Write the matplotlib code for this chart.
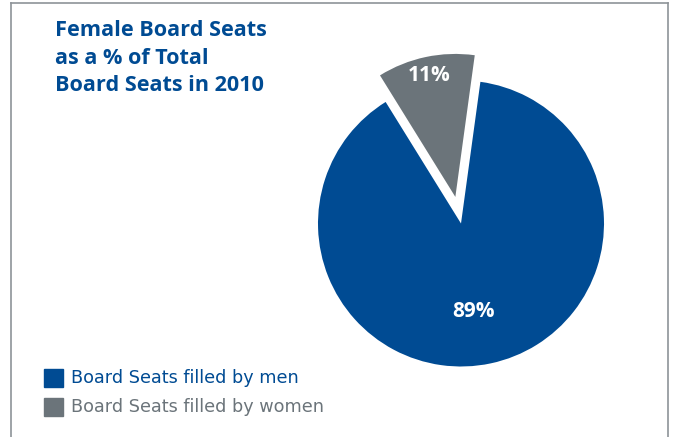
import numpy as np
import matplotlib.pyplot as plt
from matplotlib.lines import Line2D

# data
labels = ['Board Seats filled by men', 'Board Seats filled by women']
values = [89, 11]
pct_labels = ['89%', '11%']
colors = ['#004B93', '#6B747A']
explode = [0, 0.19]

W, H = 675, 437
fig = plt.figure(figsize=(W / 100, H / 100), dpi=100)

# ramecek kolem grafu (spodni hrana je mimo obrazek)
fx = lambda px: px / W
fy = lambda py: 1 - py / H
frame_col = '#8E9398'
fig.add_artist(Line2D([fx(11), fx(11)], [fy(3), -0.1], color=frame_col, lw=1.2))
fig.add_artist(Line2D([fx(11), fx(668)], [fy(3), fy(3)], color=frame_col, lw=1.2))
fig.add_artist(Line2D([fx(668), fx(668)], [fy(3), -0.1], color=frame_col, lw=1.2))

# osa pro kolac - polomer 143 px, stred (461, 223.5)
r_px, cx, cy = 143, 461, 223.5
lim = 1.3
side = 2 * r_px * lim
ax = fig.add_axes([(cx - side / 2) / W, (H - cy - side / 2) / H, side / W, side / H])

start = 102 + values[1] / 100 * 360 / 2  # zeny na stredu ~102 st.
wedges, _ = ax.pie(values, colors=colors, explode=explode, startangle=start,
                   counterclock=True, radius=1,
                   wedgeprops=dict(linewidth=0))
ax.set_xlim(-lim, lim)
ax.set_ylim(-lim, lim)
ax.set_aspect('equal')
ax.axis('off')

# popisky procent
dists = [0.62, 0.87]
shift = [-4, 0]  # maly posun uhlu popisku
for w, t, d, s in zip(wedges, pct_labels, dists, shift):
    mid = np.deg2rad((w.theta1 + w.theta2) / 2 + s)
    x0, y0 = w.center
    ax.text(x0 + d * np.cos(mid), y0 + d * np.sin(mid), t, color='white',
            fontsize=15, fontweight='bold', family='Open Sans',
            ha='center', va='center')

# titulek
fig.text(fx(55), fy(20), 'Female Board Seats\nas a % of Total\nBoard Seats in 2010',
         color='#004B93', fontsize=15.6, fontweight='bold', family='Open Sans',
         ha='left', va='top', linespacing=1.42)

# legenda
rows_y = [378, 407]
for lab, col, yy in zip(labels, colors, rows_y):
    fig.add_artist(plt.Rectangle((fx(44), fy(yy + 9)), 19 / W, 18 / H,
                                 color=col, transform=fig.transFigure))
    fig.text(fx(71), fy(yy), lab, color=col, fontsize=12.7,
             family='DejaVu Sans', ha='left', va='center')

fig.savefig('out.png', dpi=100)
